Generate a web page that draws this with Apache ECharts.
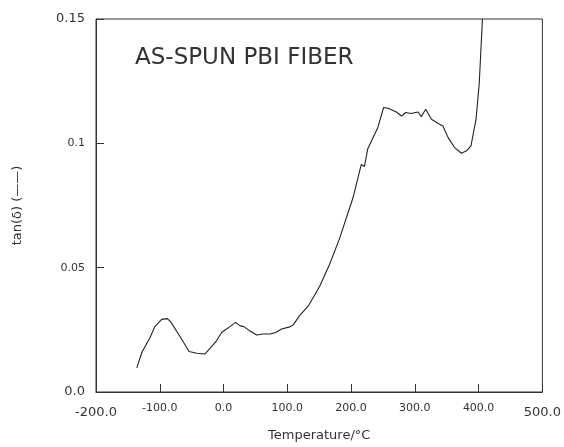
<!DOCTYPE html>
<html>
<head>
<meta charset="utf-8">
<script src="https://cdn.jsdelivr.net/npm/echarts@6/dist/echarts.min.js"></script>
<style>
  html, body { margin: 0; padding: 0; background: #fff; }
  #chart { width: 564px; height: 447px; }
</style>
</head>
<body>
<div id="chart"></div>
<script>
// tan(delta) vs temperature
const temps = [-136, -128, -115, -108, -97, -88, -82, -69, -54, -42, -29, -22, -11, -3, 10, 19, 26, 32, 41, 52, 62, 73, 82, 91, 104, 109, 119, 133, 151, 166, 182, 203, 216, 221, 226, 242, 251, 258, 271, 279, 286, 294, 305, 310, 317, 326, 336, 344, 352, 362, 373, 381, 388, 396, 401, 406]
const tanDelta = [0.0097, 0.016, 0.022, 0.0262, 0.0292, 0.0295, 0.0279, 0.0226, 0.0163, 0.0156, 0.0153, 0.0173, 0.0206, 0.0239, 0.0263, 0.028, 0.0266, 0.0263, 0.0246, 0.0229, 0.0233, 0.0233, 0.0239, 0.0253, 0.0262, 0.0269, 0.0306, 0.0346, 0.0426, 0.0512, 0.0618, 0.0781, 0.0915, 0.0907, 0.0977, 0.1064, 0.1144, 0.1141, 0.1126, 0.111, 0.1124, 0.112, 0.1126, 0.1107, 0.1137, 0.1097, 0.1081, 0.107, 0.1024, 0.0984, 0.096, 0.097, 0.099, 0.1097, 0.1243, 0.15]

const xTicks = [-200, -100, 0, 100, 200, 300, 400, 500]
const yTickLabels = { 0: '0.0', 0.05: '0.05', 0.1: '0.1', 0.15: '0.15' }

const chart = echarts.init(document.getElementById('chart'))

const font = 'DejaVu Sans'
const ink = '#333'

const option = {
  animation: false,
  backgroundColor: '#fff',
  title: {
    text: 'AS-SPUN PBI FIBER',
    left: 135,
    top: 47,
    padding: 0,
    textStyle: { fontFamily: font, fontSize: 23, fontWeight: 'normal', color: ink }
  },
  grid: {
    left: 96, right: 21, top: 19, bottom: 52,
    show: true, borderColor: ink, borderWidth: 1
  },
  xAxis: {
    type: 'value',
    min: -200, max: 500, interval: 100,
    name: 'Temperature/°C',
    nameLocation: 'middle',
    nameGap: 37,
    nameTextStyle: { fontFamily: font, fontSize: 13, color: ink },
    axisLine: { show: true, onZero: false, lineStyle: { color: ink, width: 1 } },
    axisTick: { show: true, inside: true, length: 8, lineStyle: { color: ink } },
    splitLine: { show: false },
    axisLabel: {
      margin: 11,
      fontFamily: font,
      color: ink,
      formatter: v => {
        const s = v.toFixed(1)
        return (v === xTicks[0] || v === xTicks[xTicks.length - 1]) ? '{big|' + s + '}' : '{n|' + s + '}'
      },
      rich: {
        n: { fontFamily: font, fontSize: 11, color: ink },
        big: { fontFamily: font, fontSize: 13, color: ink, padding: [3, 0, 0, 0] }
      }
    }
  },
  yAxis: {
    type: 'value',
    min: 0, max: 0.15, interval: 0.05,
    name: 'tan(δ) (——)',
    nameLocation: 'middle',
    nameRotate: 90,
    nameGap: 72,
    nameTextStyle: { fontFamily: font, fontSize: 13, color: ink },
    axisLine: { show: true, onZero: false, lineStyle: { color: ink, width: 1 } },
    axisTick: { show: true, inside: true, length: 8, lineStyle: { color: ink } },
    splitLine: { show: false },
    axisLabel: {
      margin: 11,
      fontFamily: font,
      color: ink,
      formatter: v => {
        const key = Math.round(v * 100) / 100
        const s = yTickLabels[key] || String(key)
        return (key === 0 || key === 0.15) ? '{big|' + s + '}' : '{n|' + s + '}'
      },
      rich: {
        n: { fontFamily: font, fontSize: 11, color: ink },
        big: { fontFamily: font, fontSize: 13, color: ink }
      }
    }
  },
  series: [
    {
      type: 'line',
      data: temps.map((t, i) => [t, tanDelta[i]]),
      showSymbol: false,
      smooth: false,
      clip: true,
      lineStyle: { color: '#222', width: 1.1 }
    }
  ]
}

chart.setOption(option)
</script>
</body>
</html>
